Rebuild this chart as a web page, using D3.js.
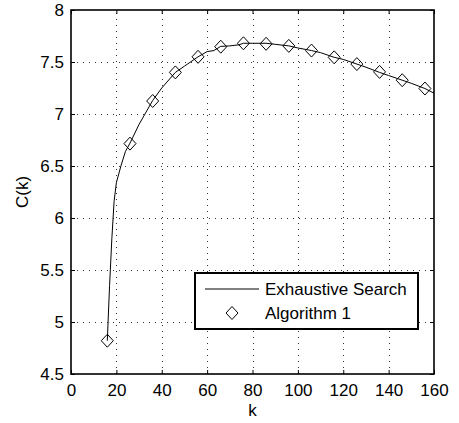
<!DOCTYPE html>
<html>
<head>
<meta charset="utf-8">
<script src="https://cdn.jsdelivr.net/npm/d3@7"></script>
<style>
  body { margin: 0; background: #fff; }
  text { font-family: "Liberation Sans", Arial, Helvetica, sans-serif; fill: #000; }
</style>
</head>
<body>
<div id="chart"></div>
<script>
// Exhaustive search curve
const kLine = [16, 17, 18, 19, 20, 22, 24, 26, 30, 36, 40, 46, 50, 56, 60, 63, 66, 70, 74, 76,
    80, 86, 90, 96, 100, 106, 110, 116, 120, 126, 130, 136, 140, 146, 150, 156, 160];
const cLine = [4.82, 5.35, 5.80, 6.16, 6.34, 6.50, 6.64, 6.72, 6.90, 7.13, 7.25, 7.40, 7.46, 7.55, 7.60, 7.61, 7.65, 7.655, 7.665, 7.68,
    7.68, 7.68, 7.67, 7.655, 7.635, 7.61, 7.59, 7.545, 7.525, 7.48, 7.45, 7.40, 7.37, 7.325, 7.295, 7.245, 7.20];

// Algorithm 1 markers
const kAlg = [16, 26, 36, 46, 56, 66, 76, 86, 96, 106, 116, 126, 136, 146, 156];
const cAlg = [4.82, 6.715, 7.125, 7.40, 7.55, 7.647, 7.68, 7.675, 7.655, 7.61, 7.545, 7.48, 7.405, 7.325, 7.245];

const xTicks = [0, 20, 40, 60, 80, 100, 120, 140, 160];
const yTicks = [4.5, 5, 5.5, 6, 6.5, 7, 7.5, 8];

const width = 459;
const height = 423;
const plot = { left: 71, right: 434, top: 10, bottom: 374 };
const FONT = 17;

const x = d3.scaleLinear().domain([0, 160]).range([plot.left, plot.right]);
const y = d3.scaleLinear().domain([4.5, 8]).range([plot.bottom, plot.top]);

const svg = d3.select("#chart")
    .append("svg")
    .attr("width", width)
    .attr("height", height);

// grid
const grid = svg.append("g").attr("class", "grid")
    .attr("stroke", "#333")
    .attr("stroke-width", 1)
    .attr("stroke-dasharray", "1,5");

grid.selectAll("line.vx")
    .data(xTicks.slice(1, -1))
    .enter().append("line")
    .attr("class", "vx")
    .attr("x1", d => Math.round(x(d)) + 0.5)
    .attr("x2", d => Math.round(x(d)) + 0.5)
    .attr("y1", plot.bottom)
    .attr("y2", plot.top);

grid.selectAll("line.hy")
    .data(yTicks.slice(1, -1))
    .enter().append("line")
    .attr("class", "hy")
    .attr("x1", plot.left)
    .attr("x2", plot.right)
    .attr("y1", d => Math.round(y(d)) + 0.5)
    .attr("y2", d => Math.round(y(d)) + 0.5);

// axes with inward ticks on all sides
const xAxisB = d3.axisBottom(x).tickValues(xTicks).tickSizeInner(-4).tickSizeOuter(0).tickFormat(d3.format("d"));
const xAxisT = d3.axisTop(x).tickValues(xTicks).tickSizeInner(-4).tickSizeOuter(0).tickFormat("");
const yAxisL = d3.axisLeft(y).tickValues(yTicks).tickSizeInner(-4).tickSizeOuter(0).tickFormat(d => d);
const yAxisR = d3.axisRight(y).tickValues(yTicks).tickSizeInner(-4).tickSizeOuter(0).tickFormat("");

function styleAxis(g) {
    g.select(".domain").remove();
    g.selectAll(".tick line").attr("stroke", "#000");
    g.selectAll(".tick text")
        .style("font-size", FONT + "px")
        .style("font-family", '"Liberation Sans", Arial, sans-serif')
        .attr("fill", "#000");
}

svg.append("g").attr("transform", `translate(0,${plot.bottom})`).call(xAxisB).call(styleAxis)
    .selectAll(".tick text").attr("dy", null).attr("y", 22);
svg.append("g").attr("transform", `translate(0,${plot.top})`).call(xAxisT).call(styleAxis);
svg.append("g").attr("transform", `translate(${plot.left},0)`).call(yAxisL).call(styleAxis)
    .selectAll(".tick text").attr("x", -7);
svg.append("g").attr("transform", `translate(${plot.right},0)`).call(yAxisR).call(styleAxis);

// box
svg.append("rect")
    .attr("x", plot.left)
    .attr("y", plot.top)
    .attr("width", plot.right - plot.left)
    .attr("height", plot.bottom - plot.top)
    .attr("fill", "none")
    .attr("stroke", "#000")
    .attr("stroke-width", 1.6);

// exhaustive search line
const lineData = kLine.map((k, i) => [k, cLine[i]]);
svg.append("path")
    .datum(lineData)
    .attr("fill", "none")
    .attr("stroke", "#000")
    .attr("stroke-width", 1)
    .attr("d", d3.line().x(d => x(d[0])).y(d => y(d[1])));

// diamond markers
function diamond(cx, cy) {
    const w = 6, h = 6.5;
    return `M${cx},${cy - h}L${cx + w},${cy}L${cx},${cy + h}L${cx - w},${cy}Z`;
}

svg.append("g").selectAll("path")
    .data(kAlg.map((k, i) => [k, cAlg[i]]))
    .enter().append("path")
    .attr("d", d => diamond(x(d[0]), y(d[1])))
    .attr("fill", "none")
    .attr("stroke", "#000")
    .attr("stroke-width", 1);

// axis labels
svg.append("text")
    .attr("x", (plot.left + plot.right) / 2)
    .attr("y", 416)
    .attr("text-anchor", "middle")
    .style("font-size", FONT + "px")
    .text("k");

svg.append("text")
    .attr("transform", `translate(28,${(plot.top + plot.bottom) / 2}) rotate(-90)`)
    .attr("text-anchor", "middle")
    .style("font-size", FONT + "px")
    .text("C(k)");

// legend
const legend = svg.append("g").attr("class", "legend");
legend.append("rect")
    .attr("x", 195)
    .attr("y", 273)
    .attr("width", 223)
    .attr("height", 56)
    .attr("fill", "#fff")
    .attr("stroke", "#000")
    .attr("stroke-width", 2);

legend.append("line")
    .attr("x1", 205).attr("x2", 259)
    .attr("y1", 289).attr("y2", 289)
    .attr("stroke", "#000")
    .attr("stroke-width", 1);

legend.append("path")
    .attr("d", diamond(232, 313))
    .attr("fill", "none")
    .attr("stroke", "#000")
    .attr("stroke-width", 1);

legend.append("text")
    .attr("x", 265)
    .attr("y", 289)
    .attr("dy", "0.36em")
    .style("font-size", FONT + "px")
    .text("Exhaustive Search");

legend.append("text")
    .attr("x", 265)
    .attr("y", 313)
    .attr("dy", "0.36em")
    .style("font-size", FONT + "px")
    .text("Algorithm 1");
</script>
</body>
</html>
